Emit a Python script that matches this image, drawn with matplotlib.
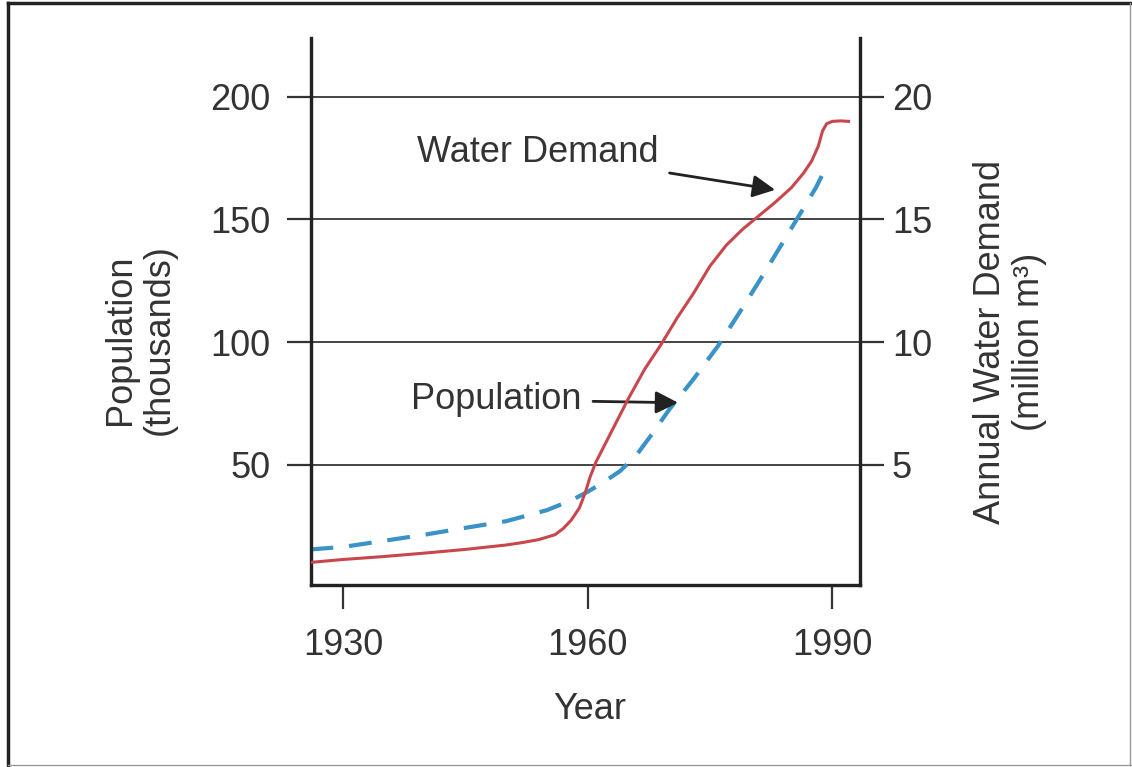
import matplotlib
matplotlib.use('Agg')
import matplotlib.pyplot as plt
from matplotlib.lines import Line2D

plt.rcParams['font.family'] = ['Liberation Sans', 'DejaVu Sans']

# values
pop_years = [1926, 1930, 1935, 1940, 1945, 1950, 1955, 1958, 1960, 1962, 1964,
             1966, 1968, 1970, 1973, 1976, 1979, 1982, 1985, 1988, 1989.5]
population = [15.5, 16.5, 19.0, 21.5, 24.3, 27.0, 31.5, 35.5, 39.0, 43.0, 47.5,
              54.0, 63.0, 72.5, 85.0, 98.5, 114.0, 130.0, 146.5, 163.0, 173.0]  # thousands

wd_years = [1926, 1930, 1935, 1940, 1945, 1950, 1952, 1954, 1956, 1957, 1958,
            1959, 1959.7, 1960.3, 1961, 1963, 1965, 1967, 1969, 1971, 1973,
            1975, 1977, 1979, 1981, 1983, 1985, 1986.5, 1987.5, 1988.3, 1988.8,
            1989.3, 1990, 1991, 1992]
water_demand = [1.02, 1.14, 1.26, 1.40, 1.55, 1.73, 1.83, 1.95, 2.15, 2.4, 2.75,
                3.25, 3.86, 4.5, 5.1, 6.4, 7.7, 8.9, 9.9, 11.0, 12.0,
                13.1, 13.95, 14.6, 15.15, 15.7, 16.3, 16.9, 17.4, 18.0, 18.6,
                18.9, 19.0, 19.02, 19.0]  # million m3

pop_ticks = [50, 100, 150, 200]
wd_ticks = [5, 10, 15, 20]
year_ticks = [1930, 1960, 1990]

txt = '#333333'
fig = plt.figure(figsize=(11.32, 7.67), dpi=100)
ax = fig.add_axes([0.2747, 0.2373, 0.4850, 0.7132])
ax2 = ax.twinx()

ax.plot(pop_years, population, color='#3a93c8', lw=3, dashes=(5.5, 3.8), zorder=3)
ax2.plot(wd_years, water_demand, color='#c9474c', lw=2.2, zorder=3)

ax.set_xlim(1926.07, 1993.4)
ax.set_ylim(1, 224)
ax2.set_ylim(0.1, 22.4)

ax.set_xticks(year_ticks)
ax.set_yticks(pop_ticks)
ax2.set_yticks(wd_ticks)
ax.grid(axis='y', color='#444444', lw=1.4)
ax.set_axisbelow(True)

for a in (ax, ax2):
    a.spines['top'].set_visible(False)
    for s in ('left', 'right', 'bottom'):
        a.spines[s].set_linewidth(2.3)
        a.spines[s].set_color('#222222')
    a.tick_params(length=17, width=1.6, color='#333333', labelsize=26, labelcolor=txt)
ax.tick_params(axis='y', pad=12)
ax.tick_params(axis='x', pad=14)
ax2.tick_params(axis='y', pad=6)

ax.set_xlabel('Year', fontsize=26, color=txt, va='center')
ax.xaxis.set_label_coords(0.508, -0.2285)
ax.set_ylabel('Population\n(thousands)', fontsize=26, color=txt,
              va='center', ha='center', linespacing=1.15)
ax.yaxis.set_label_coords(-0.311, 0.448)
ax2.set_ylabel('Annual Water Demand\n(million m³)', fontsize=26, color=txt,
               va='center', ha='center', linespacing=1.15)
ax2.yaxis.set_label_coords(1.273, 0.444)

ax.annotate('Water Demand', xy=(1983.0, 162.1), xytext=(1968.7, 177.5),
            fontsize=26, color=txt, ha='right', va='center',
            arrowprops=dict(arrowstyle='-|>', mutation_scale=34, lw=2,
                            color='#222222', shrinkA=6, shrinkB=0))
ax.annotate('Population', xy=(1971.1, 75.3), xytext=(1959.3, 76.5),
            fontsize=26, color=txt, ha='right', va='center',
            arrowprops=dict(arrowstyle='-|>', mutation_scale=34, lw=2,
                            color='#222222', shrinkA=6, shrinkB=0))

# picture frame
fig.add_artist(Line2D([0.007, 0.007], [0.003, 0.996], color='#222222', lw=2.5))
fig.add_artist(Line2D([0.007, 0.999], [0.996, 0.996], color='#222222', lw=2.5))
fig.add_artist(Line2D([0.998, 0.998], [0.003, 0.996], color='#999999', lw=1))
fig.add_artist(Line2D([0.007, 0.999], [0.003, 0.003], color='#999999', lw=1))

fig.savefig('out.png', dpi=100)
